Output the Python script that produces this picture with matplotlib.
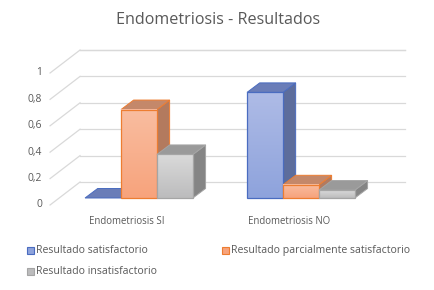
import matplotlib.pyplot as plt
import numpy as np
from matplotlib.patches import Polygon, Rectangle
from matplotlib.colors import to_rgb

categorias = ['Endometriosis SI', 'Endometriosis NO']
series = ['Resultado satisfactorio', 'Resultado parcialmente satisfactorio',
          'Resultado insatisfactorio']
satisfactorio = [0.0, 0.8]
parcial = [0.67, 0.1]
insatisfactorio = [0.33, 0.06]
ticks = [0, 0.2, 0.4, 0.6, 0.8, 1.0]
tick_labels = ['0', '0,2', '0,4', '0,6', '0,8', '1']

valores = [satisfactorio, parcial, insatisfactorio]
# colores: (frente arriba, frente abajo, lado, tapa, borde)
colores = [
    ('#aebbe6', '#8ea3dc', '#5d6d9c', '#6a7db8', '#4a6cc0'),
    ('#f9bda0', '#f7a37c', '#b37a5e', '#c4886a', '#ed7d31'),
    ('#dadada', '#bcbcbd', '#858585', '#9a9a9a', '#a5a5a5'),
]

plt.rcParams['font.family'] = ['Open Sans', 'DejaVu Sans']
gris = '#595959'

fig = plt.figure(figsize=(4.34, 2.90), dpi=100)
ax = fig.add_axes([0, 0, 1, 1])
xlim = (-0.858, 1.821)
ylim = (-0.697, 1.5)

# proyeccion oblicua (unidades de datos)
ancho = 0.222
prof = (0.078, 0.072)      # profundidad de la barra
pared = (0.136, 0.121)     # pared del fondo respecto al frente de barras
frente = (-0.549, -0.053)  # esquina delantera izquierda del suelo
fondo_x = (-0.364, 1.642)

# rejilla
for t, lab in zip(ticks, tick_labels):
    yb = t + pared[1]
    ax.plot(fondo_x, [yb, yb], color='#d9d9d9', lw=0.9, zorder=1)
    ax.plot([frente[0], fondo_x[0]], [t + frente[1], yb], color='#d9d9d9',
            lw=0.9, zorder=1)
    ax.text(frente[0] - 0.05, t + frente[1], lab, ha='right', va='center',
            fontsize=7.4, color=gris)
# linea superior
ax.plot(fondo_x, [1.0 + pared[1]] * 2, color='#d9d9d9', lw=0.9, zorder=1)

z = 2
for i in range(len(categorias)):
    for j, vals in enumerate(valores):
        v = vals[i]
        c_top, c_bot, c_side, c_cap, c_edge = colores[j]
        x0 = i + (j - 1.5) * ancho
        x1 = x0 + ancho
        dx, dy = prof
        lado = Polygon([(x1, 0), (x1 + dx, dy), (x1 + dx, v + dy), (x1, v)],
                       closed=True, fc=c_side, ec=c_edge, lw=0.7, zorder=z)
        tapa = Polygon([(x0, v), (x0 + dx, v + dy), (x1 + dx, v + dy), (x1, v)],
                       closed=True, fc=c_cap, ec=c_edge, lw=0.7, zorder=z)
        ax.add_patch(lado)
        ax.add_patch(tapa)
        if v > 0:
            grad = np.linspace(0, 1, 64)[:, None, None]
            img = (1 - grad) * np.array(to_rgb(c_top)) + grad * np.array(to_rgb(c_bot))
            ax.imshow(img, extent=(x0, x1, 0, v), origin='upper', aspect='auto',
                      zorder=z + 0.1, interpolation='bilinear')
            ax.add_patch(Rectangle((x0, 0), ancho, v, fc='none', ec=c_edge,
                                   lw=0.9, zorder=z + 0.2))
        z += 1

# etiquetas de categorias
for i, cat in enumerate(categorias):
    ax.text(i - 0.075, -0.18, cat, ha='center', va='center', fontsize=6.9,
            color=gris)

# titulo
fig.text(0.502, 0.93, 'Endometriosis - Resultados', ha='center', va='center',
         fontsize=11.6, color=gris)

# leyenda
pos_ley = [(0.063, 0.137), (0.512, 0.137), (0.063, 0.063)]
for (lx, ly), nombre, col in zip(pos_ley, series, colores):
    fig.patches.append(Rectangle((lx, ly - 0.012), 0.0145, 0.024,
                                 transform=fig.transFigure, fc=col[1],
                                 ec=col[4], lw=0.8))
    fig.text(lx + 0.021, ly, nombre, ha='left', va='center', fontsize=7.6,
             color=gris)

ax.set_xlim(*xlim)
ax.set_ylim(*ylim)
ax.axis('off')
fig.savefig('out.png', dpi=100)
